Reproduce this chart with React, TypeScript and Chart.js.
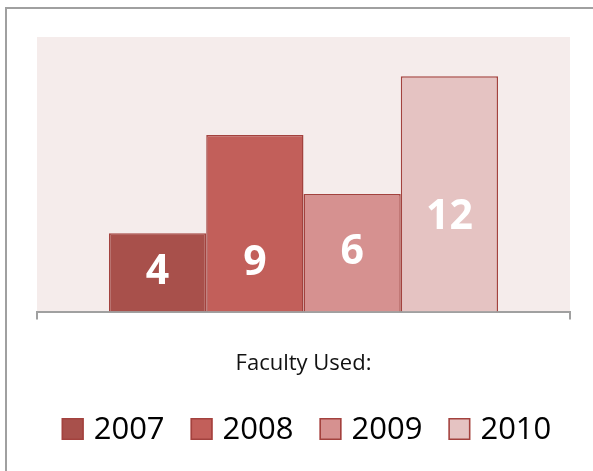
import React, { useEffect, useRef } from "react";
import { Chart, registerables } from "chart.js";

Chart.register(...registerables);

const categories = ["Faculty Used:"];
const seriesNames = ["2007", "2008", "2009", "2010"];
const seriesValues = [4, 9, 6, 12];
const labelAt = [2.0, 2.45, 3.0, 4.8];
const fillColors = ["#A8504B", "#C25F5A", "#D69190", "#E5C3C2"];
const borderColor = "#A3423E";
const yMax = 14;

const FONT = "'Open Sans', 'Liberation Sans', sans-serif";

const dataLabelPlugin = {
  id: "dataLabels",
  afterDatasetsDraw(chart: any) {
    const ctx = chart.ctx;
    const yScale = chart.scales.y;
    ctx.save();
    ctx.fillStyle = "#FFFFFF";
    ctx.font = `bold 41px ${FONT}`;
    ctx.textAlign = "center";
    ctx.textBaseline = "middle";
    chart.data.datasets.forEach((ds: any, i: number) => {
      const meta = chart.getDatasetMeta(i);
      const el = meta.data[0];
      if (!el) return;
      const y = yScale.getPixelForValue(labelAt[i]);
      ctx.fillText(String(ds.data[0]), el.x, y);
    });
    ctx.restore();
  },
};

const plotBgPlugin = {
  id: "plotBg",
  beforeDraw(chart: any) {
    const { ctx, chartArea } = chart;
    ctx.save();
    ctx.fillStyle = "#F5ECEB";
    ctx.fillRect(chartArea.left, chartArea.top, chartArea.right - chartArea.left, chartArea.bottom - chartArea.top);
    ctx.restore();
  },
};

// Legend drawn on the canvas from the chart's own datasets
const bottomLegendPlugin = {
  id: "bottomLegend",
  afterDraw(chart: any) {
    const { ctx, chartArea } = chart;
    const box = 22;
    const boxGap = 10;
    const itemGap = 26;
    const cy = 429;
    ctx.save();
    ctx.font = `31px ${FONT}`;
    const items = chart.data.datasets.map((ds: any) => ({
      label: ds.label,
      fill: ds.backgroundColor,
      w: ctx.measureText(ds.label).width,
    }));
    const total = items.reduce((s: number, it: any) => s + box + boxGap + it.w, 0) + itemGap * (items.length - 1);
    let x = (chartArea.left + chartArea.right) / 2 + 3 - total / 2;
    items.forEach((it: any) => {
      ctx.fillStyle = it.fill;
      ctx.fillRect(x, cy - box / 2, box, box);
      ctx.strokeStyle = borderColor;
      ctx.lineWidth = 1.5;
      ctx.strokeRect(x + 0.75, cy - box / 2 + 0.75, box - 1.5, box - 1.5);
      ctx.fillStyle = "#000000";
      ctx.textAlign = "left";
      ctx.textBaseline = "middle";
      ctx.fillText(it.label, x + box + boxGap, cy + 1);
      x += box + boxGap + it.w + itemGap;
    });
    ctx.restore();
  },
};

export default function App() {
  const canvasRef = useRef<HTMLCanvasElement | null>(null);

  useEffect(() => {
    if (!canvasRef.current) return;
    const chart = new Chart(canvasRef.current, {
      type: "bar",
      data: {
        labels: categories,
        datasets: seriesNames.map((name, i) => ({
          label: name,
          data: [seriesValues[i]],
          backgroundColor: fillColors[i],
          borderColor: borderColor,
          borderWidth: 1.5,
          borderSkipped: "bottom",
          categoryPercentage: 0.73,
          barPercentage: 1.0,
        })),
      },
      options: {
        animation: false,
        responsive: false,
        maintainAspectRatio: false,
        layout: { padding: { left: 37, right: 23, top: 37, bottom: 63 } },
        scales: {
          x: {
            grid: {
              display: true,
              drawOnChartArea: false,
              drawTicks: true,
              tickLength: 8,
              color: "#A0A0A0",
              lineWidth: 2,
            },
            border: { display: true, color: "#A0A0A0", width: 2 },
            ticks: {
              color: "#111111",
              font: { family: FONT, size: 22 },
              padding: 31,
            },
          },
          y: {
            display: false,
            min: 0,
            max: yMax,
          },
        },
        plugins: {
          legend: { display: false },
          tooltip: { enabled: false },
        },
      },
      plugins: [plotBgPlugin, dataLabelPlugin, bottomLegendPlugin],
    } as any);
    return () => chart.destroy();
  }, []);

  return (
    <div style={{ position: "fixed", left: 0, top: 0, width: 593, height: 471, overflow: "hidden", background: "#FFFFFF" }}>
      <div
        style={{
          position: "absolute",
          left: 5,
          top: 7,
          width: 640,
          height: 520,
          borderLeft: "2px solid #A0A0A0",
          borderTop: "2px solid #A0A0A0",
          boxSizing: "border-box",
        }}
      />
      <canvas ref={canvasRef} width={593} height={471} style={{ position: "absolute", left: 0, top: 0, width: 593, height: 471 }} />
    </div>
  );
}
